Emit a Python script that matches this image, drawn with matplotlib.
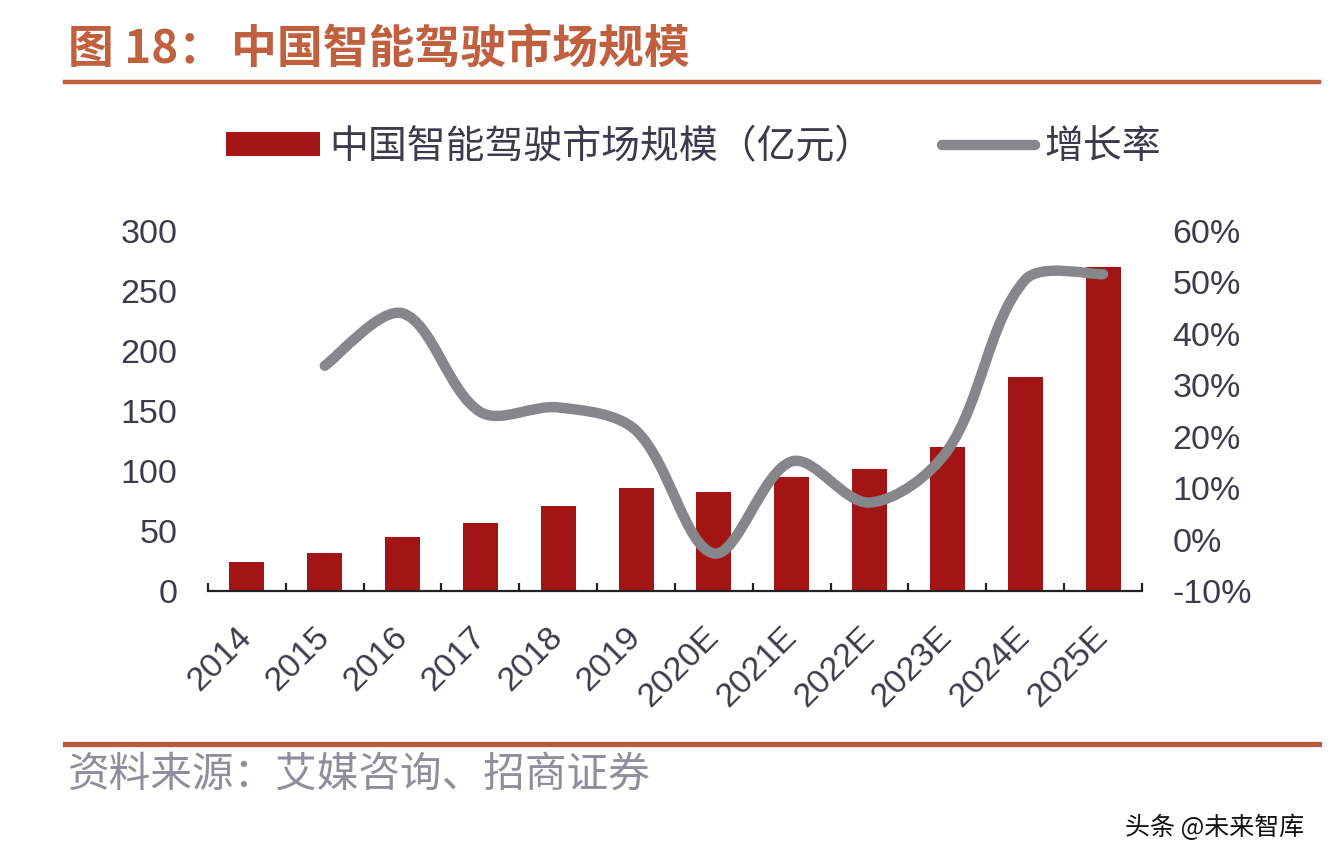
import matplotlib
matplotlib.use('Agg')
import matplotlib.pyplot as plt
from matplotlib.path import Path
from matplotlib.patches import PathPatch, Patch
from matplotlib.lines import Line2D
from matplotlib.transforms import ScaledTranslation
import numpy as np

plt.rcParams['font.family'] = ['Liberation Sans', 'Noto Sans CJK SC', 'DejaVu Sans']
plt.rcParams['axes.unicode_minus'] = False

# 数据
years = ['2014', '2015', '2016', '2017', '2018', '2019',
         '2020E', '2021E', '2022E', '2023E', '2024E', '2025E']
market = [24, 32, 45, 57, 71, 86, 82.5, 95, 102, 120, 178, 270]   # 亿元
growth = [None, 0.338, 0.44, 0.248, 0.257, 0.212, -0.027,
          0.152, 0.072, 0.173, 0.505, 0.516]

bar_color = '#a31515'
line_color = '#85878b'
text_color = '#3b3b4b'
deco_color = '#c0603f'

fig = plt.figure(figsize=(13.3, 8.68), dpi=100)
ax_rect = [0.1564, 0.3191, 0.7022, 0.4148]
ax = fig.add_axes(ax_rect)
ax2 = ax.twinx()

x = np.arange(len(years))
ax.bar(x, market, width=0.45, color=bar_color, zorder=2)
ax.set_xlim(-0.5, len(years) - 0.5)
ax.set_ylim(0, 300)
ax.set_yticks([0, 50, 100, 150, 200, 250, 300])
ax2.set_ylim(-0.1, 0.6)
ax2.set_yticks([-0.1, 0, 0.1, 0.2, 0.3, 0.4, 0.5, 0.6])
ax2.set_yticklabels(['-10%', '0%', '10%', '20%', '30%', '40%', '50%', '60%'])

# 平滑曲线（类似Excel的平滑线，按屏幕距离加权的贝塞尔）
px_x = ax_rect[2] * 13.3 * 100 / len(years)        # 每个类别的像素宽
px_y = ax_rect[3] * 8.68 * 100 / 0.7               # 每单位增长率的像素高
gx = [i for i, g in enumerate(growth) if g is not None]
gy = [g for g in growth if g is not None]
P = np.array([[a * px_x, b * px_y] for a, b in zip(gx, gy)])
n = len(P)
tension = 1 / 3
verts = [P[0]]
codes = [Path.MOVETO]
for i in range(n - 1):
    p0 = P[i - 1] if i > 0 else P[i]
    p1, p2 = P[i], P[i + 1]
    p3 = P[i + 2] if i + 2 < n else P[i + 1]
    d01 = np.hypot(*(p1 - p0))
    d12 = np.hypot(*(p2 - p1))
    d23 = np.hypot(*(p3 - p2))
    f1 = d12 / (d01 + d12) if d01 > 0 else 0.5
    f2 = d12 / (d12 + d23) if d23 > 0 else 0.5
    c1 = p1 + (p2 - p0) * f1 * tension
    c2 = p2 - (p3 - p1) * f2 * tension
    verts += [c1, c2, p2]
    codes += [Path.CURVE4] * 3
verts = np.array(verts) / np.array([px_x, px_y])
curve = PathPatch(Path(verts, codes), facecolor='none', edgecolor=line_color,
                  lw=7.5, capstyle='round', joinstyle='round', zorder=3)
ax2.add_patch(curve)

for a in (ax, ax2):
    for s in ['top', 'left', 'right']:
        a.spines[s].set_visible(False)
ax2.spines['bottom'].set_visible(False)
ax.spines['bottom'].set_color('#222222')
ax.spines['bottom'].set_linewidth(1.6)

ax.set_xticks(x)
ax.set_xticklabels(years, rotation=45, ha='right', va='top')
ax.set_xticks(np.arange(-0.5, len(years), 1), minor=True)
ax.tick_params(axis='x', which='major', length=0, pad=22, labelsize=24.5, labelcolor=text_color)
ax.tick_params(axis='x', which='minor', direction='in', length=6, width=1.6, color='#222222')
ax.tick_params(axis='y', length=0, pad=22, labelsize=24.5, labelcolor=text_color)
ax2.tick_params(axis='y', length=0, pad=22, labelsize=24.5, labelcolor=text_color)
shift = ScaledTranslation(11 / 100, 0, fig.dpi_scale_trans)
for lbl in ax.get_xticklabels():
    lbl.set_transform(lbl.get_transform() + shift)

# 图例
handles = [Patch(facecolor=bar_color, edgecolor='none'),
           Line2D([0], [0], color=line_color, lw=7.5, solid_capstyle='round')]
fig.legend(handles, ['中国智能驾驶市场规模（亿元）', '增长率'], loc='center',
           bbox_to_anchor=(0.5218, 0.8306), ncol=2, frameon=False,
           prop={'family': ['Noto Sans CJK SC'], 'size': 28},
           handlelength=2.4, handleheight=0.57, handletextpad=0.25, columnspacing=1.75,
           labelcolor=text_color)

# 标题和装饰线
fig.text(0.051, 0.942, '图 18：', fontsize=33, fontweight='bold',
         color=deco_color, family=['Noto Sans CJK SC'], va='center', ha='left')
fig.text(0.1735, 0.942, '中国智能驾驶市场规模', fontsize=33, fontweight='bold',
         color=deco_color, family=['Noto Sans CJK SC'], va='center', ha='left')
fig.add_artist(Line2D([0.049, 0.992], [0.905, 0.905], color=deco_color, lw=3.2))
fig.add_artist(Line2D([0.049, 0.992], [0.143, 0.143], color='#b85a3e', lw=3.8))

fig.text(0.051, 0.107, '资料来源：艾媒咨询、招商证券', fontsize=30, fontweight='light',
         color='#8e8e9c', family=['Noto Sans CJK SC'], va='center', ha='left')
fig.text(0.981, 0.046, '头条 @未来智库', fontsize=18, color='#111111',
         family=['Noto Sans CJK SC'], va='center', ha='right')

fig.savefig('out.png', dpi=100, facecolor='white')
